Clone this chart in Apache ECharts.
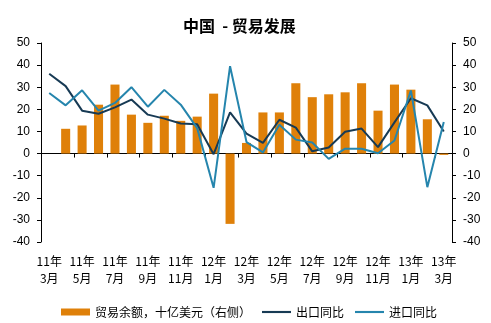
<!DOCTYPE html>
<html>
<head>
<meta charset="utf-8">
<script src="https://cdn.jsdelivr.net/npm/echarts@6/dist/echarts.min.js"></script>
<style>
  html, body { margin: 0; padding: 0; background: #fff; }
  #chart { width: 491px; height: 323px; }
</style>
</head>
<body>
<div id="chart"></div>
<script>
// Monthly categories, March 2011 – March 2013
const months = [
  '11年\n3月', '11年\n4月', '11年\n5月', '11年\n6月', '11年\n7月', '11年\n8月',
  '11年\n9月', '11年\n10月', '11年\n11月', '11年\n12月', '12年\n1月', '12年\n2月',
  '12年\n3月', '12年\n4月', '12年\n5月', '12年\n6月', '12年\n7月', '12年\n8月',
  '12年\n9月', '12年\n10月', '12年\n11月', '12年\n12月', '13年\n1月', '13年\n2月',
  '13年\n3月'
];

// Trade balance, USD bn (right axis)
const tradeBalance = [
  null, 11.2, 12.7, 22.1, 31.2, 17.6, 13.9, 17.1, 14.8, 16.7, 27.1, -31.8,
  4.8, 18.6, 18.6, 31.8, 25.5, 26.8, 27.7, 31.8, 19.4, 31.2, 28.9, 15.5, -0.6
];

// Exports, % y/y
const exportsYoY = [
  36.1, 30.5, 19.4, 18.0, 20.9, 24.4, 17.6, 15.8, 13.6, 13.3, -0.3, 18.6,
  9.0, 4.8, 15.3, 11.7, 1.0, 2.7, 9.9, 11.3, 2.9, 14.1, 25.0, 21.8, 10.0
];

// Imports, % y/y
const importsYoY = [
  27.4, 21.8, 28.6, 19.4, 22.9, 30.0, 21.2, 28.8, 22.1, 11.5, -15.5, 39.5,
  5.2, 0.5, 13.0, 6.3, 5.0, -2.4, 2.2, 2.2, 0.1, 5.9, 28.5, -15.2, 14.3
];

const yMin = -40, yMax = 50, yStep = 10;

const latin = 'Liberation Sans, Arial, "Noto Sans CJK SC", sans-serif';
const cjk = '"Noto Sans CJK SC", "Liberation Sans", sans-serif';

// plain stroke used as the legend marker for the line series
const lineIcon = 'path://M0,0L30,0L30,2.2L0,2.2Z';

const chart = echarts.init(document.getElementById('chart'), null, { renderer: 'canvas' });

const valueAxis = (position) => ({
  type: 'value',
  position: position,
  min: yMin,
  max: yMax,
  interval: yStep,
  splitLine: { show: false },
  axisLine: { show: true, lineStyle: { color: '#000', width: 1 } },
  axisTick: { show: true, length: 4, lineStyle: { color: '#000' } },
  axisLabel: { color: '#000', fontSize: 12, fontFamily: latin, margin: 11 }
});

chart.setOption({
  animation: false,
  backgroundColor: '#fff',
  title: {
    text: '中国  - 贸易发展',
    left: 178,
    top: 13,
    textStyle: { fontSize: 16, fontWeight: 'bold', color: '#000', fontFamily: cjk }
  },
  legend: {
    bottom: 5,
    left: 61,
    padding: 0,
    itemGap: 11,
    itemWidth: 29,
    itemHeight: 7,
    symbolKeepAspect: true,
    textStyle: { fontSize: 12, color: '#000', fontFamily: cjk },
    data: [
      { name: '贸易余额，十亿美元（右侧）', icon: 'rect' },
      { name: '出口同比', icon: lineIcon },
      { name: '进口同比', icon: lineIcon }
    ]
  },
  grid: {
    left: 41, right: 39, top: 43, bottom: 81,
    containLabel: false,
    outerBoundsMode: 'none'
  },
  xAxis: {
    type: 'category',
    data: months,
    boundaryGap: true,
    axisLine: { show: true, onZero: true, onZeroAxisIndex: 0, lineStyle: { color: '#000', width: 1 } },
    axisTick: { show: true, interval: 1, length: 4, lineStyle: { color: '#000' } },
    axisLabel: {
      interval: 1,
      color: '#000',
      fontSize: 12,
      fontFamily: cjk,
      lineHeight: 17,
      margin: 11
    }
  },
  yAxis: [valueAxis('left'), valueAxis('right')],
  series: [
    {
      name: '贸易余额，十亿美元（右侧）',
      type: 'bar',
      yAxisIndex: 1,
      data: tradeBalance,
      barWidth: '55%',
      itemStyle: { color: '#DF8009' }
    },
    {
      name: '出口同比',
      type: 'line',
      yAxisIndex: 0,
      data: exportsYoY,
      symbol: 'none',
      lineStyle: { color: '#173A54', width: 2 },
      itemStyle: { color: '#173A54' }
    },
    {
      name: '进口同比',
      type: 'line',
      yAxisIndex: 0,
      data: importsYoY,
      symbol: 'none',
      lineStyle: { color: '#2585AD', width: 2 },
      itemStyle: { color: '#2585AD' }
    }
  ]
});
</script>
</body>
</html>
